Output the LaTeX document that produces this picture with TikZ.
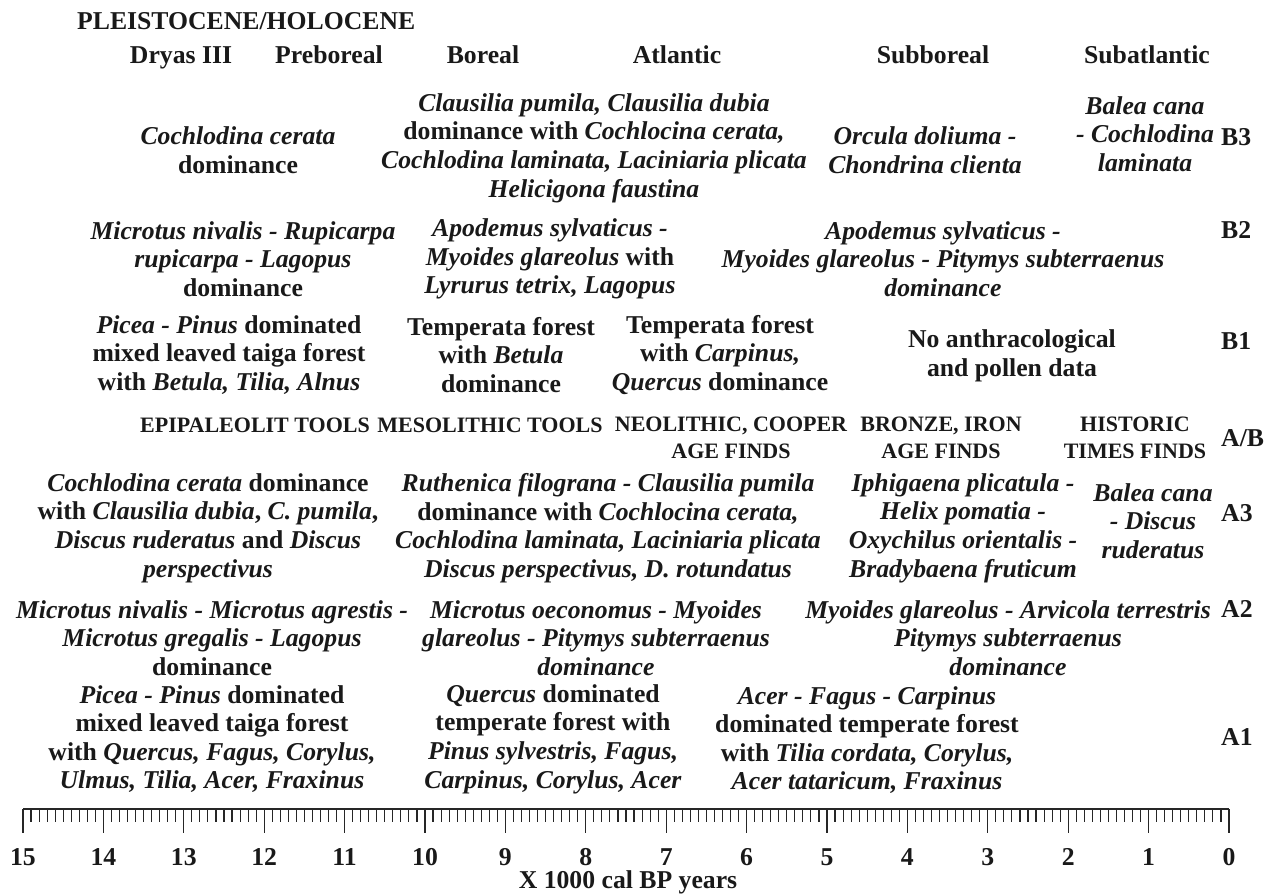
\documentclass[tikz,border=0pt]{standalone}
\usepackage{fontspec}
\setmainfont{Liberation Serif}
\usepackage{tikz}
\newcommand{\chartfont}{\fontsize{25.7}{28.6}\selectfont\bfseries}
\newcommand{\findsfont}{\fontsize{22}{27}\selectfont\bfseries}

\begin{document}
\begin{tikzpicture}[x=1pt,y=-1pt,
    every node/.style={inner sep=0pt,text=black!90},
    taxon/.style={align=center,font=\chartfont},
    zone/.style={font=\chartfont,anchor=base},
    finds/.style={align=center,font=\findsfont},
    layer/.style={font=\chartfont,anchor=base west}]
            \useasboundingbox (0,0) rectangle (1270,895);
            \node[zone,anchor=base west] (epoch) at (77,29.5) {PLEISTOCENE/HOLOCENE};
            \node[zone] (dryas) at (181,63.5) {Dryas III};
            \node[zone] (preboreal) at (329,63.5) {Preboreal};
            \node[zone] (boreal) at (483,63.5) {Boreal};
            \node[zone] (atlantic) at (677,63.5) {Atlantic};
            \node[zone] (subboreal) at (933,63.5) {Subboreal};
            \node[zone] (subatlantic) at (1147,63.5) {Subatlantic};

            \node[taxon] (cerataB) at (238,150) {\textit{Cochlodina cerata}\\dominance};
            \node[taxon] (clausiliaB) at (594,148) {\textit{Clausilia pumila, Clausilia dubia}\\dominance with \textit{Cochlocina cerata,}\\\textit{Cochlodina laminata, Laciniaria plicata}\\\textit{Helicigona faustina}};
            \node[taxon] (orculaB) at (925,150) {\textit{Orcula doliuma -}\\\textit{Chondrina clienta}};
            \node[taxon] (baleaB) at (1145,134) {\textit{Balea cana}\\\textit{- Cochlodina}\\\textit{laminata}};
            \node[layer] (B3) at (1221,145) {B3};

            \node[taxon] (microtusB) at (243,259) {\textit{Microtus nivalis - Rupicarpa}\\\textit{rupicarpa - Lagopus}\\dominance};
            \node[taxon] (apodemusB) at (550,259) {\textit{Apodemus sylvaticus -}\\\textit{Myoides glareolus} with\\\textit{Lyrurus tetrix, Lagopus}};
            \node[taxon] (pitymysB) at (943,259) {\textit{Apodemus sylvaticus -}\\\textit{Myoides glareolus - Pitymys subterraenus}\\\textit{dominance}};
            \node[layer] (B2) at (1221,238.5) {B2};

            \node[taxon] (piceaB) at (229,355) {\textit{Picea - Pinus} dominated\\mixed leaved taiga forest\\with \textit{Betula, Tilia, Alnus}};
            \node[taxon] (betulaB) at (501,355) {Temperata forest\\with \textit{Betula}\\dominance};
            \node[taxon] (carpinusB) at (720,355) {Temperata forest\\with \textit{Carpinus,}\\\textit{Quercus} dominance};
            \node[taxon] (nodataB) at (1012,356) {No anthracological\\and pollen data};
            \node[layer] (B1) at (1221,349.5) {B1};

            \node[finds] (epipal) at (255,425) {EPIPALEOLIT TOOLS};
            \node[finds] (mesol) at (490,425) {MESOLITHIC TOOLS};
            \node[finds] (neol) at (731,438) {NEOLITHIC, COOPER\\AGE FINDS};
            \node[finds] (bronze) at (941,438) {BRONZE, IRON\\AGE FINDS};
            \node[finds] (historic) at (1135,438) {HISTORIC\\TIMES FINDS};
            \node[layer] (AB) at (1221,446.5) {A/B};

            \node[taxon] (cerataA) at (208,528) {\textit{Cochlodina cerata} dominance\\with \textit{Clausilia dubia}, \textit{C. pumila},\\\textit{Discus ruderatus} and \textit{Discus}\\\textit{perspectivus}};
            \node[taxon] (ruthenicaA) at (608,528) {\textit{Ruthenica filograna - Clausilia pumila}\\dominance with \textit{Cochlocina cerata,}\\\textit{Cochlodina laminata, Laciniaria plicata}\\\textit{Discus perspectivus, D. rotundatus}};
            \node[taxon] (iphigaenaA) at (963,528) {\textit{Iphigaena plicatula -}\\\textit{Helix pomatia -}\\\textit{Oxychilus orientalis -}\\\textit{Bradybaena fruticum}};
            \node[taxon] (baleaA) at (1153,521) {\textit{Balea cana}\\\textit{- Discus}\\\textit{ruderatus}};
            \node[layer] (A3) at (1221,521.5) {A3};

            \node[taxon] (microtusA) at (212,638) {\textit{Microtus nivalis - Microtus agrestis -}\\\textit{Microtus gregalis - Lagopus}\\dominance};
            \node[taxon] (oeconomusA) at (596,638) {\textit{Microtus oeconomus - Myoides}\\\textit{glareolus - Pitymys subterraenus}\\\textit{dominance}};
            \node[taxon] (arvicolaA) at (1008,638) {\textit{Myoides glareolus - Arvicola terrestris}\\\textit{Pitymys subterraenus}\\\textit{dominance}};
            \node[layer] (A2) at (1221,617.5) {A2};

            \node[taxon] (piceaA) at (212,739) {\textit{Picea - Pinus} dominated\\mixed leaved taiga forest\\with \textit{Quercus, Fagus, Corylus,}\\\textit{Ulmus, Tilia, Acer, Fraxinus}};
            \node[taxon] (quercusA) at (553,739) {\textit{Quercus} dominated\\temperate forest with\\\textit{Pinus sylvestris, Fagus,}\\\textit{Carpinus, Corylus, Acer}};
            \node[taxon] (acerA) at (867,740) {\textit{Acer - Fagus - Carpinus}\\dominated temperate forest\\with \textit{Tilia cordata, Corylus,}\\\textit{Acer tataricum, Fraxinus}};
            \node[layer] (A1) at (1221,745.5) {A1};

            \coordinate (axisL) at (23,809);
            \coordinate (axisR) at (1229,809);
            \draw[line width=1.4pt,black!85] (axisL) -- (axisR);
            \foreach \i in {0,...,150}
                \draw[line width=1.1pt,black!85] (23+\i*8.04,809) -- ++(0,13);
            \foreach \k in {0,...,15} {
                \draw[line width=1.1pt,black!85] (23+\k*80.4,809) -- ++(0,24);
                \pgfmathtruncatemacro{\yr}{15-\k}
                \node[zone] (yr\k) at (23+\k*80.4,865) {\yr};
            }
            \node[zone] (unit) at (628,888) {X 1000 cal BP years};
        \end{tikzpicture}
\end{document}
